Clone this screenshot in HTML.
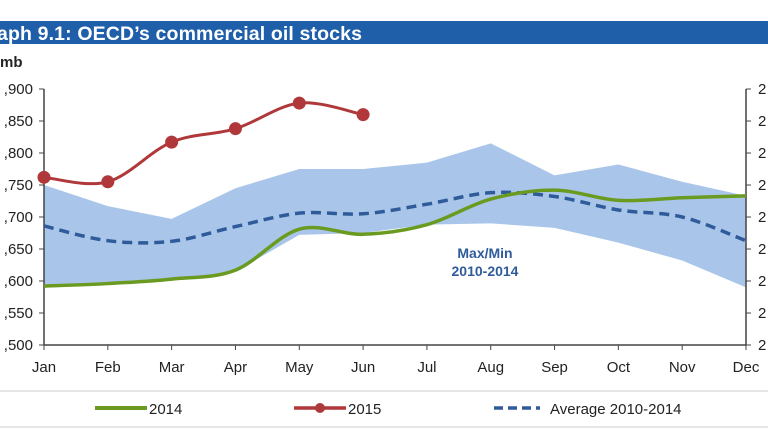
<!DOCTYPE html>
<html><head><meta charset="utf-8"><style>
body{margin:0;width:768px;height:432px;overflow:hidden;background:#fff;font-family:"Liberation Sans",sans-serif;}
svg text{font-family:"Liberation Sans",sans-serif;}
</style></head><body>
<svg id="c" width="768" height="432">
<rect x="0" y="21" width="768" height="23" fill="#1f5ea8"/>
<text x="-3" y="40" fill="#fff" font-size="19.5" font-weight="bold" textLength="365">aph 9.1: OECD’s commercial oil stocks</text>
<text x="0" y="67" font-size="15" font-weight="bold" fill="#222">mb</text>
<g id="plot"></g>
<text x="485" y="258" text-anchor="middle" font-size="14" font-weight="bold" fill="#2f5b9b">Max/Min</text>
<text x="485" y="276" text-anchor="middle" font-size="14" font-weight="bold" fill="#2f5b9b">2010-2014</text>
<line x1="0" y1="391" x2="768" y2="391" stroke="#ccc"/>
<line x1="0" y1="427" x2="768" y2="427" stroke="#ccc"/>
<g>
<line x1="95" y1="408" x2="147" y2="408" stroke="#6a9a1f" stroke-width="4"/>
<text x="149" y="414" font-size="15" fill="#222">2014</text>
<line x1="294" y1="408" x2="346" y2="408" stroke="#b0383a" stroke-width="3.5"/>
<circle cx="320" cy="408" r="5" fill="#b0383a"/>
<text x="348" y="414" font-size="15" fill="#222">2015</text>
<line x1="494" y1="408" x2="540" y2="408" stroke="#2f5b9b" stroke-width="3.5" stroke-dasharray="9,5"/>
<text x="550" y="414" font-size="15" fill="#222">Average 2010-2014</text>
</g>
</svg>
<script>
const months=["Jan","Feb","Mar","Apr","May","Jun","Jul","Aug","Sep","Oct","Nov","Dec"];
const yTicks=[1500,1550,1600,1650,1700,1750,1800,1850,1900];
const yTickLabels=[",500",",550",",600",",650",",700",",750",",800",",850",",900"];
const s2014=[1592,1596,1603,1617,1681,1673,1688,1728,1742,1726,1730,1733];
const s2015=[1762,1755,1817,1838,1878,1860];
const avg=[1686,1663,1662,1685,1706,1705,1720,1738,1732,1711,1700,1663];
const bandMax=[1750,1717,1697,1745,1775,1775,1785,1815,1765,1782,1755,1733];
const bandMin=[1590,1595,1602,1615,1672,1675,1688,1690,1683,1660,1632,1590];
const NS="http://www.w3.org/2000/svg";
const g=document.getElementById("plot");
const L=44,R=746,T=89,B=345;
const x=i=>L+i*(R-L)/(months.length-1);
const y=v=>B-(v-1500)/(1900-1500)*(B-T);
function mk(t,a){const e=document.createElementNS(NS,t);for(const k in a)e.setAttribute(k,a[k]);g.appendChild(e);return e;}
function smooth(arr){let p=arr.map((v,i)=>[x(i),y(v)]);let d="M"+p[0];for(let i=0;i<p.length-1;i++){const p0=p[i-1]||p[i],p1=p[i],p2=p[i+1],p3=p[i+2]||p2;const c1=[p1[0]+(p2[0]-p0[0])/6,p1[1]+(p2[1]-p0[1])/6],c2=[p2[0]-(p3[0]-p1[0])/6,p2[1]-(p3[1]-p1[1])/6];d+=" C"+c1+" "+c2+" "+p2;}return d;}
let bd="M"+bandMax.map((v,i)=>x(i)+","+y(v)).join(" L")+" L"+bandMin.map((v,i)=>[x(i),y(v)]).reverse().map(p=>p.join(",")).join(" L")+"Z";
let e=mk("path",{d:bd,fill:"#a9c6ea"});


e=mk("line",{x1:L,y1:T,x2:L,y2:B,stroke:"#444","stroke-width":1.5});


e=mk("line",{x1:R,y1:T,x2:R,y2:B,stroke:"#444","stroke-width":1.5});


e=mk("line",{x1:L,y1:B,x2:R,y2:B,stroke:"#444","stroke-width":1.5});


yTicks.forEach((v,i)=>{
 let t=mk("line",{x1:L-5,y1:y(v),x2:L,y2:y(v),stroke:"#444"});
 
 
 t=mk("line",{x1:R,y1:y(v),x2:R+5,y2:y(v),stroke:"#444"});
 
 
 let l=mk("text",{x:33,y:y(v)+5,"text-anchor":"end","font-size":15,fill:"#222"});l.textContent=yTickLabels[i];
 
 
 l=mk("text",{x:758,y:y(v)+5,"font-size":15,fill:"#222"});l.textContent="2";
 
 
});
months.forEach((m,i)=>{
 let t=mk("line",{x1:x(i),y1:B,x2:x(i),y2:B+5,stroke:"#444"});
 
 
 let l=mk("text",{x:x(i),y:372,"text-anchor":"middle","font-size":15,fill:"#222"});l.textContent=m;
 
 
});
e=mk("path",{d:smooth(avg),fill:"none",stroke:"#2f5b9b","stroke-width":3.5,"stroke-dasharray":"10,6"});


e=mk("path",{d:smooth(s2014),fill:"none",stroke:"#6a9a1f","stroke-width":3.5});


e=mk("path",{d:smooth(s2015),fill:"none",stroke:"#b0383a","stroke-width":3});


s2015.forEach((v,i)=>{
 const c=mk("circle",{cx:x(i),cy:y(v),r:6.5,fill:"#b0383a"});
 
 
});
</script>
</body></html>
